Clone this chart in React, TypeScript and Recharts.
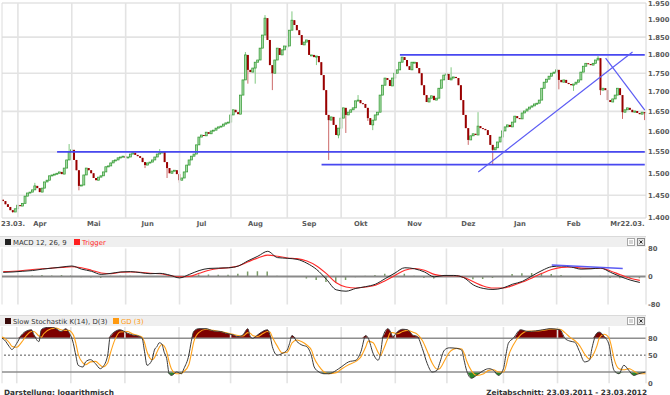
import React from "react";
import {
  ComposedChart, Bar, Line, Area, XAxis, YAxis, CartesianGrid, ReferenceLine,
} from "recharts";

// daily closes, 23.03.2011 - 23.03.2012 (trading days)
const closes = [
  1.437, 1.430, 1.424, 1.417, 1.413, 1.420, 1.428, 1.426, 1.432, 1.448,
  1.455, 1.457, 1.462, 1.471, 1.466, 1.457, 1.466, 1.480, 1.484, 1.494,
  1.496, 1.498, 1.500, 1.503, 1.498, 1.512, 1.531, 1.550, 1.555, 1.531,
  1.507, 1.471, 1.473, 1.496, 1.512, 1.507, 1.500, 1.489, 1.484, 1.491,
  1.494, 1.503, 1.515, 1.517, 1.524, 1.529, 1.531, 1.536, 1.538, 1.540,
  1.536, 1.538, 1.545, 1.548, 1.543, 1.540, 1.536, 1.526, 1.519, 1.524,
  1.526, 1.531, 1.538, 1.545, 1.548, 1.550, 1.526, 1.512, 1.500, 1.505,
  1.507, 1.498, 1.484, 1.489, 1.503, 1.519, 1.531, 1.540, 1.545, 1.567,
  1.586, 1.591, 1.589, 1.598, 1.594, 1.601, 1.603, 1.608, 1.611, 1.613,
  1.618, 1.621, 1.623, 1.641, 1.654, 1.648, 1.643, 1.692, 1.732, 1.800,
  1.759, 1.753, 1.764, 1.780, 1.786, 1.819, 1.856, 1.905, 1.842, 1.772,
  1.750, 1.786, 1.819, 1.800, 1.814, 1.825, 1.825, 1.870, 1.899, 1.885,
  1.870, 1.856, 1.828, 1.836, 1.842, 1.800, 1.800, 1.794, 1.797, 1.780,
  1.745, 1.705, 1.641, 1.628, 1.636, 1.616, 1.591, 1.608, 1.633, 1.659,
  1.641, 1.648, 1.654, 1.659, 1.677, 1.679, 1.671, 1.669, 1.659, 1.633,
  1.616, 1.628, 1.641, 1.648, 1.692, 1.718, 1.737, 1.732, 1.716, 1.737,
  1.750, 1.759, 1.780, 1.794, 1.786, 1.769, 1.759, 1.780, 1.780, 1.764,
  1.750, 1.718, 1.692, 1.674, 1.684, 1.690, 1.679, 1.684, 1.710, 1.732,
  1.745, 1.748, 1.732, 1.737, 1.740, 1.737, 1.718, 1.679, 1.641, 1.608,
  1.579, 1.589, 1.594, 1.591, 1.613, 1.608, 1.606, 1.603, 1.591, 1.567,
  1.555, 1.560, 1.574, 1.586, 1.601, 1.611, 1.616, 1.611, 1.623, 1.638,
  1.633, 1.631, 1.646, 1.651, 1.656, 1.661, 1.664, 1.669, 1.671, 1.679,
  1.710, 1.726, 1.734, 1.742, 1.750, 1.753, 1.759, 1.732, 1.726, 1.732,
  1.724, 1.721, 1.718, 1.721, 1.726, 1.732, 1.753, 1.769, 1.777, 1.775,
  1.772, 1.777, 1.786, 1.791, 1.705, 1.710, 1.705, 1.679, 1.674, 1.682,
  1.692, 1.710, 1.692, 1.648, 1.654, 1.659, 1.654, 1.648, 1.651, 1.646,
  1.643, 1.648, 1.646,
];
const firstOpen = 1.440;

// days with a visible wick beyond the body
const wickDay = [4, 13, 27, 31, 58, 64, 67, 72, 99, 100, 103, 107, 110, 118, 128, 133, 137, 140, 145, 149, 151, 183, 190, 194, 200, 227, 233, 243, 244, 253, 262];
const wickHigh = [null, 1.478, 1.569, null, null, 1.557, null, null, 1.808, null, null, 1.914, null, 1.925, null, null, null, null, 1.692, null, null, 1.766, null, 1.648, null, null, null, 1.797, null, null, null];
const wickLow = [1.411, null, null, 1.461, 1.512, null, 1.489, 1.478, null, 1.722, 1.722, null, 1.705, null, 1.772, 1.531, 1.583, 1.596, null, 1.626, 1.603, null, 1.567, null, 1.519, 1.707, 1.703, null, 1.692, 1.631, 1.628];

const priceTicks = [1.4, 1.45, 1.5, 1.55, 1.6, 1.65, 1.7, 1.75, 1.8, 1.85, 1.9, 1.95];
const monthGridDay = [6, 28, 50, 72, 93, 116, 138, 160, 181, 204, 226, 247];
const labelDay = [4, 15, 37, 59, 81, 103, 125, 146, 168, 190, 211, 233, 250, 257];
const labelText = ["23.03.", "Apr", "Mai", "Jun", "Jul", "Aug", "Sep", "Okt", "Nov", "Dez", "Jan", "Feb", "Mr", "22.03."];

// MACD 12,26,9 sampled every 4 trading days
const MACD_STEP = 4;
const macdLine = [12, 13, 15, 17, 21, 24, 27, 30, 21, 15, 6, 9, 13, 14, 11, 8, 9, 4, -4, 6, 17, 23, 24, 25, 30, 45, 58, 72, 54, 52, 49, 38, 20, -8, -38, -42, -34, -29, -22, -6, 10, 25, 22, 13, -1, 3, 3, -3, -24, -34, -37, -33, -22, -14, 2, 17, 28, 30, 27, 21, 22, 24, 12, 0, -10, -17];
const macdTrigger = [14, 15, 17, 20, 22, 24, 26, 28, 25, 18, 10, 8, 12, 13, 12, 9, 8, 3, -1, 0, 9, 18, 23, 25, 30, 42, 53, 61, 58, 53, 51, 44, 30, 8, -18, -30, -33, -30, -25, -12, 3, 18, 23, 18, 6, 2, 2, -2, -15, -27, -33, -33, -26, -16, -4, 9, 20, 26, 27, 24, 23, 24, 16, 5, -5, -11];
const macdHist = [0, -1, 1, 3, 4, 3, 4, 4, -2, -3, -4, 2, 2, 2, 0, -1, 1, 0, -3, 3, 6, 6, 5, 5, 8, 14, 15, 14, 2, 1, 0, -6, -10, -16, -18, -10, -2, 2, 4, 8, 10, 8, 2, -4, -6, 1, 1, -2, -8, -7, -4, 1, 7, 9, 10, 9, 7, 4, 1, -2, 1, 2, -4, -5, -4, -5];

// Slow stochastic K(14), D(3)
const stochDay = [0, 1, 3, 4, 6, 8, 10, 12, 13, 15, 16, 17, 20, 22, 24, 26, 27, 29, 30, 31, 33, 34, 36, 38, 40, 41, 43, 44, 46, 48, 51, 53, 56, 57, 58, 59, 61, 62, 63, 64, 65, 66, 67, 68, 69, 71, 73, 74, 76, 77, 78, 80, 83, 86, 89, 91, 94, 96, 98, 100, 101, 102, 104, 106, 108, 109, 110, 112, 114, 116, 117, 118, 120, 122, 124, 126, 127, 129, 131, 133, 136, 138, 141, 144, 146, 148, 149, 151, 153, 154, 155, 157, 158, 159, 161, 163, 165, 167, 169, 171, 173, 175, 177, 178, 180, 182, 185, 187, 188, 189, 191, 193, 196, 198, 200, 202, 204, 205, 206, 208, 211, 214, 217, 220, 223, 227, 229, 231, 233, 235, 237, 239, 240, 242, 243, 245, 247, 248, 249, 251, 253, 255, 257, 259, 262];
const stochK = [80, 77, 65, 60, 71, 86, 93, 95, 86, 74, 95, 98, 100, 97, 92, 97, 92, 71, 50, 32, 29, 38, 42, 35, 26, 29, 50, 83, 92, 95, 89, 86, 83, 80, 56, 32, 41, 59, 65, 72, 70, 55, 44, 17, 14, 20, 17, 26, 50, 74, 92, 97, 97, 93, 92, 89, 86, 83, 86, 97, 83, 80, 86, 92, 95, 86, 65, 50, 53, 59, 71, 85, 74, 68, 65, 47, 29, 20, 17, 17, 23, 29, 38, 41, 56, 85, 80, 53, 41, 53, 83, 97, 92, 83, 92, 96, 95, 86, 83, 62, 35, 20, 23, 35, 59, 63, 62, 59, 41, 23, 9, 14, 23, 26, 23, 14, 26, 50, 71, 80, 95, 92, 93, 95, 97, 95, 80, 75, 73, 56, 38, 41, 62, 89, 91, 83, 68, 41, 23, 17, 32, 23, 14, 17, 20];
const stochD = [82, 80, 72, 66, 64, 73, 85, 92, 92, 84, 82, 88, 97, 98, 95, 94, 94, 86, 72, 52, 36, 33, 38, 39, 32, 29, 36, 52, 78, 91, 92, 88, 84, 82, 72, 56, 42, 45, 55, 64, 69, 66, 56, 38, 25, 17, 18, 21, 33, 52, 73, 90, 96, 94, 92, 90, 87, 85, 84, 90, 89, 85, 83, 88, 92, 91, 82, 66, 54, 55, 62, 72, 77, 74, 68, 58, 45, 30, 20, 17, 19, 25, 33, 39, 47, 65, 75, 72, 55, 49, 58, 80, 90, 90, 88, 92, 94, 91, 87, 76, 57, 36, 25, 26, 40, 55, 62, 61, 53, 40, 22, 14, 17, 23, 24, 20, 20, 30, 48, 68, 86, 93, 93, 94, 96, 96, 90, 82, 76, 67, 52, 43, 47, 66, 80, 87, 80, 64, 44, 26, 24, 26, 22, 17, 17];

const LAST = closes.length - 1;

const candles = closes.map((c, i) => {
  const o = i === 0 ? firstOpen : closes[i - 1];
  const w = wickDay.indexOf(i);
  const hi = w >= 0 && wickHigh[w] != null ? (wickHigh[w] as number) : 0;
  const lo = w >= 0 && wickLow[w] != null ? (wickLow[w] as number) : 99;
  const h = Math.max(o, c, hi);
  const l = Math.min(o, c, lo);
  return { i, o, c, h, l, range: [l, h] };
});

const macdRows: any[] = closes.map((_, i) => ({ i, m: null, t: null, h: null }));
macdLine.forEach((v, n) => {
  const r = macdRows[n * MACD_STEP];
  r.m = v; r.t = macdTrigger[n]; r.h = macdHist[n];
});

const stochRows: any[] = closes.map((_, i) => ({ i, k: null, d: null }));
stochDay.forEach((day, n) => {
  stochRows[day].k = stochK[n];
  stochRows[day].d = stochD[n];
});

const FONT = "DejaVu Sans";
const GRID = "#e3e3e3";
const BLUE = "#4848f0";
const tickStyle = { fontSize: 6.8, fontWeight: "bold", fill: "#5a5a5a", fontFamily: FONT };
const margin = { top: 3, right: 0, bottom: 0, left: 2 };

const Candle = (props: any) => {
  const { x, y, width, height, payload } = props;
  if (x == null || y == null) return null;
  const { o, c, h, l } = payload;
  const lh = Math.log(h);
  const span = lh - Math.log(l) || 1;
  const py = (p: number) => y + (height * (lh - Math.log(p))) / span;
  const up = c >= o;
  const top = py(Math.max(o, c));
  const bot = py(Math.min(o, c));
  const cx = x + width / 2;
  return (
    <g>
      <line x1={cx} x2={cx} y1={y} y2={y + height} stroke={up ? "#80c880" : "#cc6a6a"} strokeWidth={1} />
      <rect
        x={x} y={top} width={width} height={Math.max(bot - top, 1)}
        fill={up ? "#a6dca6" : "#990000"}
        stroke={up ? "#2f962f" : "none"} strokeWidth={0.7}
      />
    </g>
  );
};

const monthLines = () =>
  monthGridDay.map((d) => <ReferenceLine key={"g" + d} x={d} stroke={GRID} strokeWidth={1.6} />);

function PriceChart() {
  return (
    <ComposedChart width={670} height={236} data={candles} margin={margin}>
      <CartesianGrid vertical={false} stroke={GRID} strokeWidth={1.6} />
      {monthLines()}
      <ReferenceLine x={0} position="start" stroke="#dcdcdc" />
      <XAxis
        dataKey="i" type="category" ticks={labelDay} interval={0}
        tickFormatter={(v) => labelText[labelDay.indexOf(v)]}
        axisLine={false} tickLine={false} tickSize={0} tickMargin={3} height={18}
        tick={tickStyle}
      />
      <YAxis
        orientation="right" type="number" scale="log" domain={[1.4, 1.95]} allowDataOverflow
        ticks={priceTicks} tickFormatter={(v) => v.toFixed(3)} width={24}
        axisLine={{ stroke: "#d6d6d6" }} tickLine={false} tickSize={0} tickMargin={2}
        tick={tickStyle}
      />
      <Bar dataKey="range" barSize={2} shape={<Candle />} isAnimationActive={false} />
      <ReferenceLine segment={[{ x: 22, y: 1.55 }, { x: LAST, y: 1.55 }]} stroke={BLUE} strokeWidth={1.7} />
      <ReferenceLine segment={[{ x: 130, y: 1.52 }, { x: LAST, y: 1.52 }]} stroke={BLUE} strokeWidth={1.7} />
      <ReferenceLine segment={[{ x: 162, y: 1.8 }, { x: LAST, y: 1.8 }]} stroke={BLUE} strokeWidth={1.7} />
      <ReferenceLine segment={[{ x: 194, y: 1.503 }, { x: 257, y: 1.808 }]} stroke="#5c5cf4" strokeWidth={1.2} />
      <ReferenceLine segment={[{ x: 246, y: 1.791 }, { x: LAST, y: 1.653 }]} stroke="#5c5cf4" strokeWidth={1.2} />
    </ComposedChart>
  );
}

function MacdChart() {
  return (
    <ComposedChart width={670} height={70} data={macdRows} margin={{ ...margin, top: 8.5, bottom: 5.5 }}>
      {monthLines()}
      <ReferenceLine x={0} position="start" stroke="#dcdcdc" />
      <XAxis dataKey="i" type="category" hide />
      <YAxis
        orientation="right" type="number" domain={[-80, 80]} allowDataOverflow ticks={[-80, 0, 80]} width={24}
        axisLine={{ stroke: "#d6d6d6" }} tickLine={false} tickSize={0} tickMargin={2} tick={tickStyle}
      />
      <ReferenceLine y={0} stroke="#8a8a8a" strokeWidth={2} />
      <Bar dataKey="h" barSize={1.5} fill="#7a9c66" isAnimationActive={false} />
      <Line dataKey="t" type="monotone" stroke="#ff2a2a" strokeWidth={1.1} dot={false} connectNulls isAnimationActive={false} />
      <Line dataKey="m" type="monotone" stroke="#222222" strokeWidth={1} dot={false} connectNulls isAnimationActive={false} />
      <ReferenceLine segment={[{ x: 224, y: 33 }, { x: 253, y: 23 }]} stroke="#5c5cf4" strokeWidth={1.5} />
    </ComposedChart>
  );
}

function StochChart() {
  return (
    <ComposedChart width={670} height={70} data={stochRows} margin={{ ...margin, top: 7, bottom: 6.7 }}>
      {monthLines()}
      <ReferenceLine x={0} position="start" stroke="#dcdcdc" />
      <XAxis dataKey="i" type="category" hide />
      <YAxis
        orientation="right" type="number" domain={[0, 100]} allowDataOverflow ticks={[0, 50, 80]} width={24}
        axisLine={{ stroke: "#d6d6d6" }} tickLine={false} tickSize={0} tickMargin={2} tick={tickStyle}
      />
      <Area
        dataKey={(d: any) => (d.k == null ? null : Math.max(d.k, 80))} baseValue={80}
        type="monotone" fill="#7d0000" fillOpacity={1} stroke="none" connectNulls isAnimationActive={false}
      />
      <Area
        dataKey={(d: any) => (d.k == null ? null : Math.min(d.k, 20))} baseValue={20}
        type="monotone" fill="#2a8a2a" fillOpacity={1} stroke="none" connectNulls isAnimationActive={false}
      />
      <ReferenceLine y={80} stroke="#8e8e8e" strokeWidth={1.6} />
      <ReferenceLine y={20} stroke="#8e8e8e" strokeWidth={1.6} />
      <ReferenceLine y={50} stroke="#555" strokeDasharray="2 2" />
      <Line dataKey="d" type="monotone" stroke="#ffa21a" strokeWidth={1.1} dot={false} connectNulls isAnimationActive={false} />
      <Line dataKey="k" type="monotone" stroke="#3a3a3a" strokeWidth={1} dot={false} connectNulls isAnimationActive={false} />
    </ComposedChart>
  );
}

function PanelHeader({ y, items }: { y: number; items: { sq: string; text: string; color: string; x: number }[] }) {
  return (
    <g>
      <rect x={0} y={y} width={646} height={11} fill="#efefef" />
      <line x1={0} x2={646} y1={y + 0.5} y2={y + 0.5} stroke="#dadada" />
      {items.map((it) => (
        <g key={it.text}>
          <rect x={it.x} y={y + 3} width={6} height={6} fill={it.sq} />
          <text x={it.x + 8} y={y + 8.8} fontSize={6.9} fill={it.color} fontFamily={FONT}>{it.text}</text>
        </g>
      ))}
      <rect x={627.5} y={y + 2.5} width={7} height={7} fill="#fff" stroke="#a8a8a8" />
      <rect x={629.5} y={y + 4.5} width={1} height={1} fill="#555" />
      <rect x={631.5} y={y + 4.5} width={1} height={1} fill="#555" />
      <rect x={629.5} y={y + 6.5} width={1} height={1} fill="#555" />
      <rect x={631.5} y={y + 6.5} width={1} height={1} fill="#555" />
      <rect x={637.5} y={y + 2.5} width={7} height={7} fill="#e6e6e6" stroke="#888" />
      <path d={`M${639.5} ${y + 4.5} L${642.5} ${y + 7.5} M${642.5} ${y + 4.5} L${639.5} ${y + 7.5}`} stroke="#333" strokeWidth={1} />
    </g>
  );
}

export default function App() {
  return (
    <div style={{ position: "absolute", left: 0, top: 0, width: 670, height: 395, background: "#fff", fontFamily: FONT, overflow: "hidden" }}>
      <div style={{ position: "absolute", left: 0, top: 0 }}><PriceChart /></div>
      <div style={{ position: "absolute", left: 0, top: 240 }}><MacdChart /></div>
      <div style={{ position: "absolute", left: 0, top: 320 }}><StochChart /></div>
      <svg width={670} height={395} style={{ position: "absolute", left: 0, top: 0, pointerEvents: "none" }}>
        <PanelHeader
          y={236}
          items={[
            { sq: "#222", text: "MACD 12, 26, 9", color: "#333", x: 5 },
            { sq: "#ff2020", text: "Trigger", color: "#ff2a2a", x: 74 },
          ]}
        />
        <PanelHeader
          y={315}
          items={[
            { sq: "#3a0c0c", text: "Slow Stochastik K(14), D(3)", color: "#333", x: 5 },
            { sq: "#ff9a10", text: "GD (3)", color: "#ff9a10", x: 113 },
          ]}
        />
        <text x={4} y={394.5} fontSize={7.3} fontWeight="bold" fill="#333" fontFamily={FONT}>Darstellung: logarithmisch</text>
        <text x={647} y={394.5} fontSize={7.3} fontWeight="bold" fill="#333" fontFamily={FONT} textAnchor="end">Zeitabschnitt: 23.03.2011 - 23.03.2012</text>
      </svg>
    </div>
  );
}
